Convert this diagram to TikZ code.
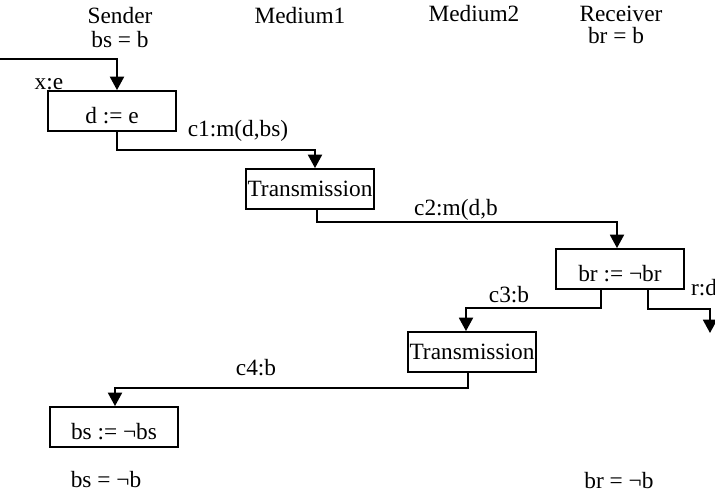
\documentclass[tikz,border=0pt]{standalone}
\usepackage{fontspec}
\setmainfont{Liberation Serif}
\usepackage{tikz}
\usetikzlibrary{calc}
\usetikzlibrary{arrows.meta}
\newcommand{\boxwidth}{96pt}
\newcommand{\boxheight}{30pt}
\tikzset{
    common/.style={font=\fontsize{17.5}{20}\selectfont},
    action/.style={common, draw, rectangle, line width=1.4pt, inner xsep=1pt, minimum width=\boxwidth, minimum height=\boxheight},
    assign/.style={action, text height=18pt, text depth=0pt},
    header/.style={common, anchor=base, inner sep=0pt},
    chan/.style={common, anchor=base, inner sep=0pt},
    flow/.style={line width=1.4pt, -{Triangle[width=10.5pt, length=10pt]}}
}
\begin{document}
\begin{tikzpicture}[x=0.75pt, y=-0.75pt]
      \useasboundingbox (0,0) rectangle (715,492);

      \node[header] (sender) at (120,24) {Sender};
      \node[header] (bsinit) at (120,48) {bs = b};
      \node[header] (med1) at (300,24) {Medium1};
      \node[header] (med2) at (474,22) {Medium2};
      \node[header] (receiver) at (621,22) {Receiver};
      \node[header] (brinit) at (616,44) {br = b};

      \node[assign] (setd) at (112,111) {d := e};
      \node[action] (trans1) at (310,189) {Transmission};
      \node[assign] (flipr) at (620,269) {br := ¬br};
      \node[action] (trans2) at (472,352) {Transmission};
      \node[assign] (flips) at (114,427) {bs := ¬bs};

      \node[chan] (xe) at (49,90) {x:e};
      \node[chan] (c1) at (238,137) {c1:m(d,bs)};
      \node[chan] (c2) at (456,215) {c2:m(d,b};
      \node[chan] (c3) at (509,302) {c3:b};
      \node[chan] (rd) at (704,295) {r:d};
      \node[chan] (c4) at (256,375) {c4:b};

      \node[header] (bsfinal) at (106,487) {bs = ¬b};
      \node[header] (brfinal) at (619,488) {br = ¬b};

      \coordinate (input) at (0,59);
      \coordinate (output) at (710,333);

      \draw[flow] (input) -| ($(setd.north)+(5,0)$);
      \draw[flow] ($(setd.south)+(5,0)$) -- ++(0,18) -| ($(trans1.north)+(5,0)$);
      \draw[flow] ($(trans1.south)+(7,0)$) -- ++(0,12) -| ($(flipr.north)+(-3,0)$);
      \draw[flow] ($(flipr.south)+(-19,0)$) -- ++(0,18) -| ($(trans2.north)+(-6,0)$);
      \draw[flow] ($(flipr.south)+(28,0)$) -- ++(0,19) -| (output);
      \draw[flow] ($(trans2.south)+(-4,0)$) -- ++(0,15) -| ($(flips.north)+(1,0)$);
  \end{tikzpicture}
\end{document}
